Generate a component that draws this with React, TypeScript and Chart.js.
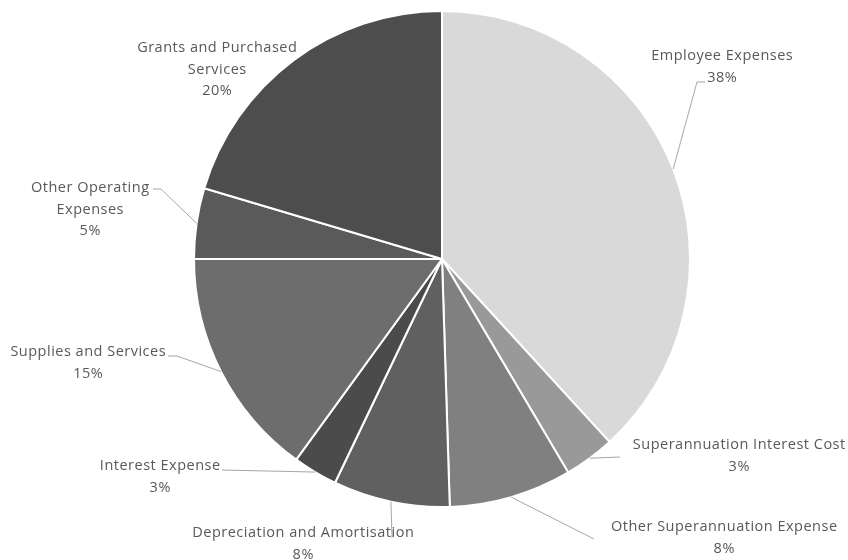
import React, { useEffect, useRef } from "react";
import { Chart, registerables } from "chart.js";

Chart.register(...registerables);

const categories = [
  "Employee Expenses",
  "Superannuation Interest Cost",
  "Other Superannuation Expense",
  "Depreciation and Amortisation",
  "Interest Expense",
  "Supplies and Services",
  "Other Operating Expenses",
  "Grants and Purchased Services",
];
const values = [38.2, 3.3, 8.0, 7.6, 2.9, 15.0, 4.6, 20.4];
const percentLabels = ["38%", "3%", "8%", "8%", "3%", "15%", "5%", "20%"];
const colors = ["#d9d9d9", "#999999", "#808080", "#606060", "#4b4b4b", "#6d6d6d", "#5a5a5a", "#4d4d4d"];

// label layout: text lines, centre x, first-line centre y, leader path (elbow points after arc point)
const labelLines = [
  ["Employee Expenses"],
  ["Superannuation Interest Cost"],
  ["Other Superannuation Expense"],
  ["Depreciation and Amortisation"],
  ["Interest Expense"],
  ["Supplies and Services"],
  ["Other Operating", "Expenses"],
  ["Grants and Purchased", "Services"],
];
const labelPos: [number, number][] = [
  [722, 56],
  [739, 445],
  [724, 527],
  [303, 533],
  [160, 466],
  [88, 352],
  [90, 188],
  [217, 48],
];
const leaderPts: ([number, number][] | null)[] = [
  [[697, 82], [705, 82]],
  [[620, 457]],
  [[594, 539]],
  [[392, 538]],
  [[222, 470]],
  [[177, 356], [168, 356]],
  [[161, 189], [153, 189]],
  null,
];

const FONT = '14.5px "Open Sans"';
const LINE_H = 21.5;
const SPACING = 0.5;

const labelPlugin = {
  id: "outsideLabels",
  afterDraw(chart: any) {
    const ctx = chart.ctx;
    const meta = chart.getDatasetMeta(0);
    ctx.save();
    meta.data.forEach((arc: any, i: number) => {
      const pts = leaderPts[i];
      if (pts) {
        const mid = (arc.startAngle + arc.endAngle) / 2;
        const sx = arc.x + Math.cos(mid) * arc.outerRadius;
        const sy = arc.y + Math.sin(mid) * arc.outerRadius;
        ctx.beginPath();
        ctx.strokeStyle = "#a6a6a6";
        ctx.lineWidth = 1;
        ctx.moveTo(sx, sy);
        pts.forEach(([px, py]) => ctx.lineTo(px, py));
        ctx.stroke();
      }
      const lines = [...labelLines[i], percentLabels[i]];
      const [cx, cy] = labelPos[i];
      ctx.font = FONT;
      (ctx as any).letterSpacing = SPACING + "px";
      ctx.fillStyle = "#595959";
      ctx.textAlign = "center";
      ctx.textBaseline = "middle";
      lines.forEach((t, k) => ctx.fillText(t, cx + SPACING / 2, cy + k * LINE_H));
    });
    ctx.restore();
  },
};

export default function App() {
  const ref = useRef<HTMLCanvasElement>(null);
  useEffect(() => {
    if (!ref.current) return;
    const chart = new Chart(ref.current, {
      type: "pie",
      data: {
        labels: categories,
        datasets: [
          {
            data: values,
            backgroundColor: colors,
            borderColor: "#ffffff",
            borderWidth: 2,
          },
        ],
      },
      options: {
        animation: false,
        responsive: false,
        layout: { padding: { top: 10, bottom: 52, left: 36, right: 0 } },
        plugins: { legend: { display: false }, tooltip: { enabled: false } },
      },
      plugins: [labelPlugin],
    });
    return () => chart.destroy();
  }, []);
  return (
    <div style={{ position: "absolute", left: 0, top: 0, width: 848, height: 560, background: "#fff" }}>
      <canvas ref={ref} width={848} height={560} style={{ width: 848, height: 560 }} />
    </div>
  );
}
